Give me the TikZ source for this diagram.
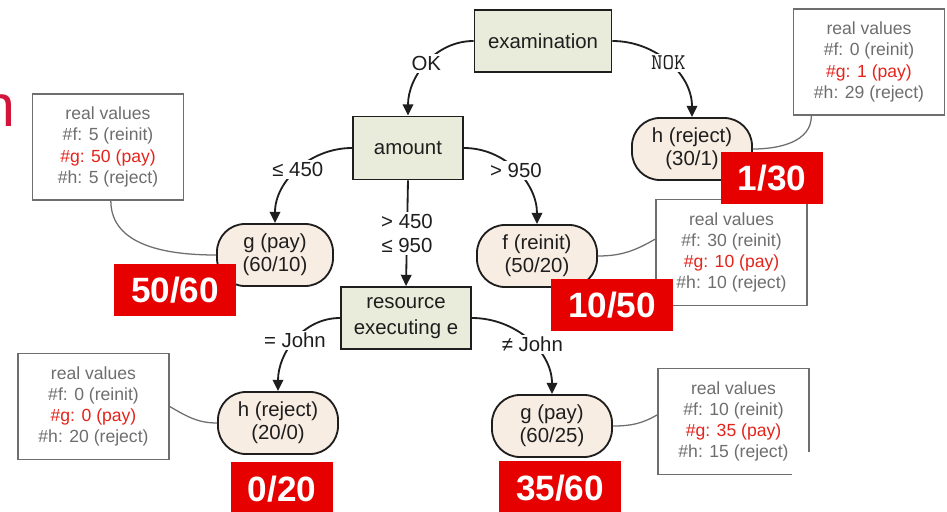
\documentclass[tikz,border=0pt]{standalone}
\usepackage{fontspec}
\setmainfont{Liberation Sans}
\usetikzlibrary{positioning, arrows.meta}
\definecolor{decFill}{HTML}{E9ECDA}
\definecolor{leafFill}{HTML}{F8EDE3}
\definecolor{ratioRed}{HTML}{E60000}
\definecolor{valGray}{HTML}{6E6E6E}
\definecolor{valRed}{HTML}{E4231B}
\definecolor{lineDark}{HTML}{1E1E1E}
\definecolor{cutRed}{HTML}{D3143B}

\begin{document}
\begin{tikzpicture}[x=0.025cm, y=0.025cm,
        every node/.style={font=\fontsize{14.5}{17}\selectfont, text=lineDark},
        decBox/.style={rectangle, draw=lineDark, line width=1.3pt, fill=decFill,
                       minimum height=15.5mm, align=center},
        leafNode/.style={rectangle, rounded corners=7mm, draw=lineDark, line width=1.3pt,
                         fill=leafFill, minimum width=30mm, minimum height=15.5mm,
                         align=center, font=\fontsize{14.5}{16.5}\selectfont},
        valBox/.style={rectangle, draw=valGray, line width=1pt, fill=white,
                       minimum width=37.75mm, minimum height=26.5mm, align=center,
                       text=valGray, font=\fontsize{12.5}{15}\selectfont},
        ratioBox/.style={rectangle, fill=ratioRed, text=white,
                         font=\fontsize{25}{25}\selectfont\bfseries,
                         inner xsep=4.25mm, minimum height=13mm},
        edgeLbl/.style={fill=white, inner sep=1.5pt},
        branch/.style={line width=1.3pt, draw=lineDark, -{Triangle[length=8pt, width=7.5pt]}},
        valLink/.style={line width=0.9pt, draw=valGray},
      ]
        \path[use as bounding box, fill=white] (0,0) rectangle (947,-512);

        % cut-off title letter
        \node[text=cutRed, font=\fontsize{42}{42}\selectfont, anchor=east, inner sep=0pt] (cutN) at (16,-111) {n};

        % decisions
        \node[decBox, minimum width=34.25mm] (exam) at (543,-41) {examination};
        \node[decBox, minimum width=27.5mm, minimum height=15.75mm] (amount) at (408,-148) {amount};
        \node[decBox, minimum width=32.5mm, font=\fontsize{14.5}{18}\selectfont] (resource) at (406,-318) {resource\\executing e};

        % leaves
        \node[leafNode] (hRej) at (692,-149) {h (reject)\\(30/1)};
        \node[leafNode, minimum width=29mm] (gPay) at (275,-255) {g (pay)\\(60/10)};
        \node[leafNode] (fRei) at (537,-256) {f (reinit)\\(50/20)};
        \node[leafNode] (hRejJ) at (278,-423) {h (reject)\\(20/0)};
        \node[leafNode] (gPayJ) at (552,-426) {g (pay)\\(60/25)};

        % branches
        \draw[branch] (exam.west) to[out=180, in=90] node[edgeLbl] {OK} (amount.north);
        \draw[branch] (exam.east) to[out=0, in=90] node[edgeLbl, font=\ttfamily\fontsize{16}{16}\selectfont] {NOK} (hRej.north);
        \draw[branch] (amount.west) to[out=180, in=90] node[edgeLbl] {≤ 450} (gPay.north);
        \draw[branch] (amount.east) to[out=0, in=90] node[edgeLbl] {> 950} (fRei.north);
        \draw[branch] (amount.south) -- node[edgeLbl, align=center] {> 450\\≤ 950} (resource.north);
        \draw[branch] (resource.west) to[out=180, in=90] node[edgeLbl] {= John} (hRejJ.north);
        \draw[branch] (resource.east) to[out=0, in=90] node[edgeLbl, pos=0.55] {≠ John} (gPayJ.north);

        % real values
        \node[valBox] (valTL) at (108,-147) {real values\\\#f: 5 (reinit)\\\textcolor{valRed}{\#g: 50 (pay)}\\\#h: 5 (reject)};
        \node[valBox] (valTR) at (869,-62) {real values\\\#f: 0 (reinit)\\\textcolor{valRed}{\#g: 1 (pay)}\\\#h: 29 (reject)};
        \node[valBox] (valF) at (731.5,-252.5) {real values\\\#f: 30 (reinit)\\\textcolor{valRed}{\#g: 10 (pay)}\\\#h: 10 (reject)};
        \node[valBox] (valBL) at (93.5,-406.5) {real values\\\#f: 0 (reinit)\\\textcolor{valRed}{\#g: 0 (pay)}\\\#h: 20 (reject)};
        \node[valBox] (valBR) at (733.5,-421.5) {real values\\\#f: 10 (reinit)\\\textcolor{valRed}{\#g: 35 (pay)}\\\#h: 15 (reject)};
        \fill[white] (792,-452) rectangle (815,-482);

        \draw[valLink] (valTL.-87) to[out=-90, in=180] (gPay.west);
        \draw[valLink] (valTR.-137) to[out=-90, in=0] (hRej.east);
        \draw[valLink] (fRei.east) to[out=0, in=210] (valF.170);
        \draw[valLink] (valBL.east) to[out=-30, in=180] (hRejJ.west);
        \draw[valLink] (valBR.175) to[out=210, in=0] (gPayJ.east);

        % ratios
        \node[ratioBox] (r130) at (772,-178) {1/30};
        \node[ratioBox] (r5060) at (175,-290) {50/60};
        \node[ratioBox] (r1050) at (612,-305) {10/50};
        \node[ratioBox, below=1.75mm of hRejJ, xshift=1mm, minimum height=13.5mm] (r020) {0/20};
        \node[ratioBox, below=0.75mm of gPayJ, xshift=2mm, minimum height=13.5mm] (r3560) {35/60};
      \end{tikzpicture}
\end{document}
